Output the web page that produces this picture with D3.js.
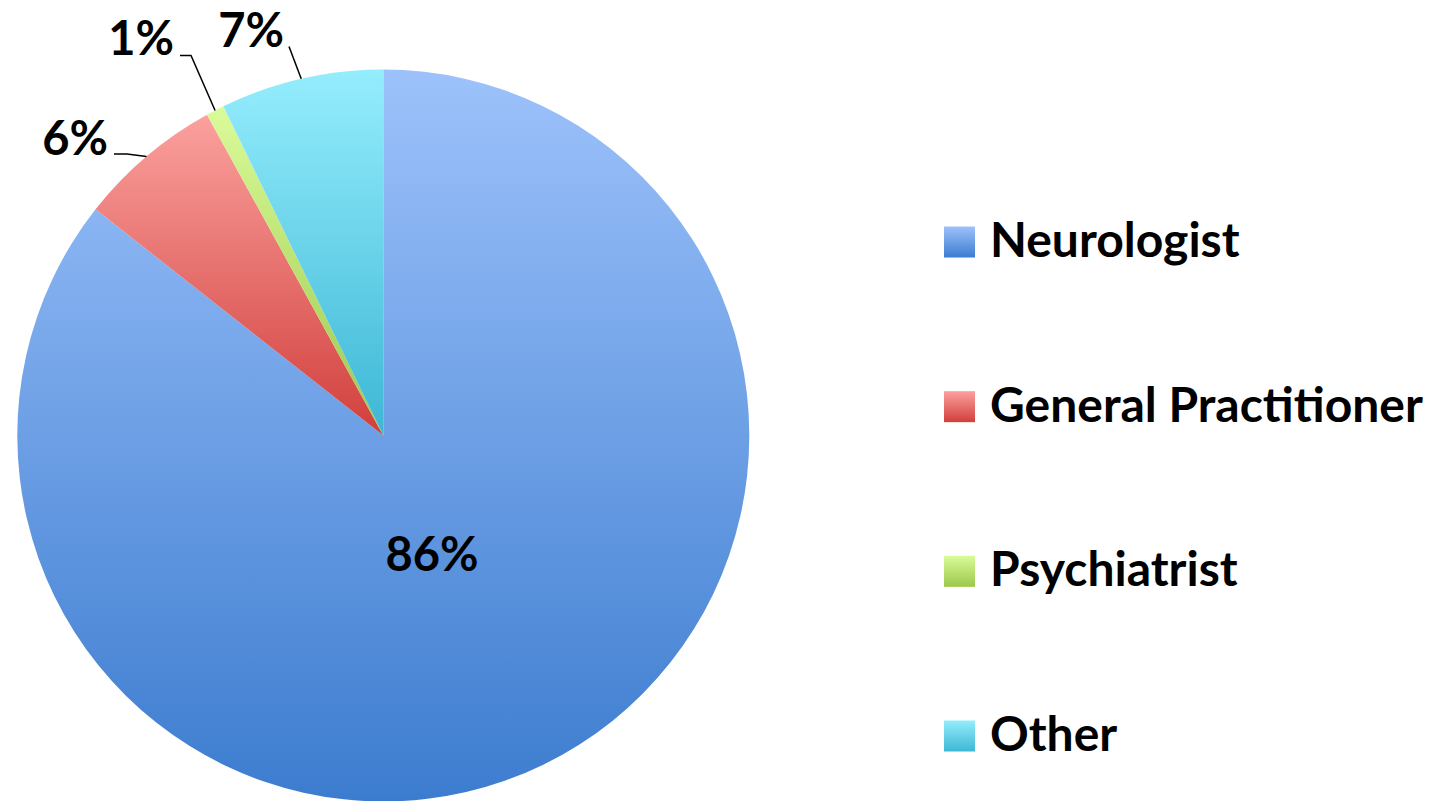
<!DOCTYPE html>
<html>
<head>
<meta charset="utf-8">
<script src="https://cdn.jsdelivr.net/npm/d3@7"></script>
<style>
  body { margin: 0; background: #fff; }
  text { font-family: Lato, "Open Sans", sans-serif; font-weight: bold; fill: #000; }
</style>
</head>
<body>
<svg id="chart" width="1447" height="801"></svg>
<script>
var categories = ["Neurologist", "General Practitioner", "Psychiatrist", "Other"];
var values = [85.6, 6.4, 0.8, 7.2];
var labels = ["86%", "6%", "1%", "7%"];
var topColors = ["#9dc2fb", "#fba19e", "#dafb9a", "#95edfd"];
var bottomColors = ["#3c7ccf", "#d13f3c", "#9bc84a", "#3db7d5"];

var svg = d3.select("#chart");
var cx = 383.3, cy = 435.5, radius = 366;

var defs = svg.append("defs");
categories.forEach(function(c, i) {
  var g = defs.append("linearGradient")
    .attr("id", "grad" + i)
    .attr("x1", 0).attr("y1", 0).attr("x2", 0).attr("y2", 1);
  g.append("stop").attr("offset", "0%").attr("stop-color", topColors[i]);
  g.append("stop").attr("offset", "100%").attr("stop-color", bottomColors[i]);
});

var pie = d3.pie().sort(null).value(function(d) { return d; });
var arc = d3.arc().innerRadius(0).outerRadius(radius);
var arcs = pie(values);

var g = svg.append("g").attr("transform", "translate(" + cx + "," + cy + ")");

g.selectAll(".slice")
  .data(arcs)
  .enter().append("path")
  .attr("class", "slice")
  .attr("d", arc)
  .attr("fill", function(d, i) { return "url(#grad" + i + ")"; });

// point on the rim for a slice
function rim(d, r) {
  var a = (d.startAngle + d.endAngle) / 2;
  return [Math.sin(a) * r, -Math.cos(a) * r];
}

// big label inside neurologist slice
g.append("text")
  .attr("x", 432 - cx)
  .attr("y", 571 - cy)
  .attr("text-anchor", "middle")
  .style("font-size", "47px")
  .text(labels[0]);

// outside labels with leader lines
var outside = [
  {i: 1, tx: 108, ty: 155, pts: [[114, 154], [127, 154]]},
  {i: 2, tx: 174, ty: 55, pts: [[180, 55.5], [191, 55.5]]},
  {i: 3, tx: 284, ty: 46.5, pts: [[289, 46.5]]}
];

outside.forEach(function(o) {
  var p = rim(arcs[o.i], radius);
  var pts = o.pts.map(function(q) { return [q[0] - cx, q[1] - cy]; });
  pts.push(p);
  g.append("path")
    .attr("d", d3.line()(pts))
    .attr("fill", "none")
    .attr("stroke", "#000")
    .attr("stroke-width", 1.5);
  g.append("text")
    .attr("x", o.tx - cx)
    .attr("y", o.ty - cy)
    .attr("text-anchor", "end")
    .style("font-size", "47px")
    .text(labels[o.i]);
});

// legend
var legendY = d3.scalePoint().domain(categories).range([242, 736]);

var leg = svg.selectAll(".legend")
  .data(categories)
  .enter().append("g")
  .attr("class", "legend")
  .attr("transform", function(d) { return "translate(944," + legendY(d) + ")"; });

leg.append("rect")
  .attr("x", 0).attr("y", -15.5)
  .attr("width", 31).attr("height", 31)
  .attr("fill", function(d, i) { return "url(#grad" + i + ")"; });

leg.append("text")
  .attr("x", 46)
  .attr("y", 15)
  .style("font-size", "48px")
  .text(function(d) { return d; });
</script>
</body>
</html>
